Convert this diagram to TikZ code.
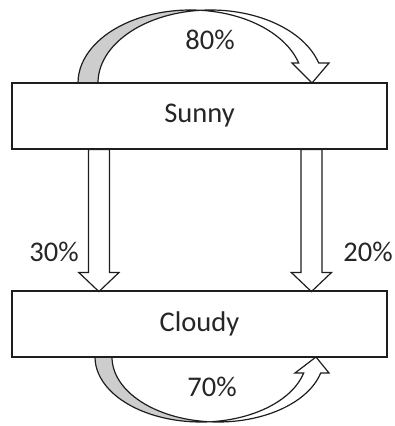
\documentclass[tikz,border=0pt]{standalone}
\usepackage{fontspec}
\setmainfont{Carlito}
\usetikzlibrary{calc}

\definecolor{inkline}{RGB}{30,30,30}
\definecolor{textgray}{RGB}{38,38,38}
\definecolor{backside}{RGB}{205,205,205}

\tikzset{
  statebox/.style={draw=inkline, line width=1.2pt, fill=white, minimum width=375pt,
    minimum height=66pt, inner sep=0pt, font=\fontsize{28.5}{30}\selectfont, text=textgray},
  pct/.style={font=\fontsize{28.5}{30}\selectfont, text=textgray, inner sep=0pt},
  blockarrow/.style={draw=inkline, line width=1.2pt, fill=white, line join=miter},
  ribbonback/.style={draw=inkline, line width=1.2pt, fill=backside},
  ribbonfront/.style={draw=inkline, line width=1.2pt, fill=white, line join=miter},
  blockdown/.pic={
    \draw[blockarrow] (-10.5,0) -- (-10.5,-123) -- (-20,-123) -- (0,-142)
      -- (20,-123) -- (10.5,-123) -- (10.5,0) -- cycle;
  }
}

\begin{document}
\begin{tikzpicture}[x=1pt,y=1pt]
  \useasboundingbox (0,0) rectangle (395,426);

  % Sunny -> Sunny loop (curved ribbon over the top)
  \path[ribbonback] (78,343)
    arc[start angle=180, end angle=84.9, x radius=112.5, y radius=73]
    arc[start angle=95.1, end angle=180, x radius=112.5, y radius=73] -- cycle;
  \path[ribbonfront] (298.7,363)
    arc[start angle=15.9, end angle=84.9, x radius=112.5, y radius=73]
    arc[start angle=95.1, end angle=15.9, x radius=112.5, y radius=73]
    -- (329,363) -- (312,343) -- (292,363) -- cycle;

  % Cloudy -> Cloudy loop (curved ribbon underneath)
  \path[ribbonback] (95,69)
    arc[start angle=180, end angle=274.6, x radius=106, y radius=65]
    arc[start angle=265.4, end angle=180, x radius=106, y radius=65] -- cycle;
  \path[ribbonfront] (303.7,53)
    arc[start angle=345.75, end angle=274.6, x radius=106, y radius=65]
    arc[start angle=265.4, end angle=345.75, x radius=106, y radius=65]
    -- (329,53) -- (316,69) -- (295,53) -- cycle;

  % states
  \node[statebox] (sunny) at (199.5,310) {Sunny};
  \node[statebox] (cloudy) at (199.5,102) {Cloudy};

  % transitions between the states
  \pic at ($(sunny.south west)+(87.5,0)$) {blockdown};
  \pic at ($(sunny.south west)+(300,0)$) {blockdown};
  \draw[draw=inkline, line width=1.2pt] (sunny.south west) rectangle (sunny.north east);
  \draw[draw=inkline, line width=1.2pt] (cloudy.south west) rectangle (cloudy.north east);

  % probabilities
  \node[pct] (p80) at (210,386) {80\%};
  \node[pct] (p30) at (54,174) {30\%};
  \node[pct] (p20) at (368,174) {20\%};
  \node[pct] (p70) at (212,39) {70\%};
\end{tikzpicture}
\end{document}
